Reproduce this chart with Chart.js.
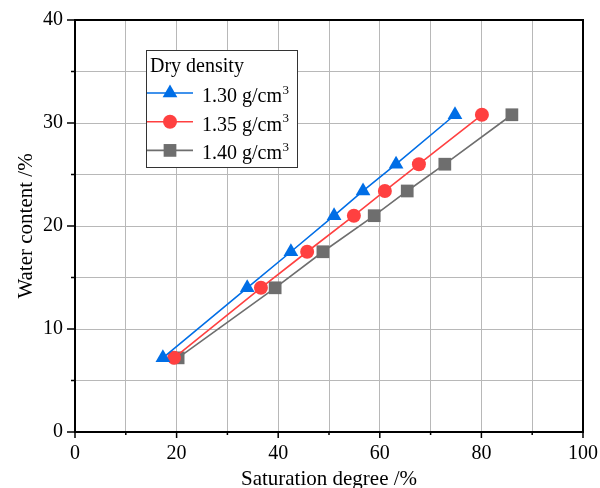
<!DOCTYPE html>
<html><head><meta charset="utf-8">
<script src="https://cdn.jsdelivr.net/npm/chart.js@4/dist/chart.umd.min.js"></script>
<style>html,body{margin:0;padding:0;background:#fff;overflow:hidden}canvas{display:block}</style>
</head><body>
<canvas id="c" width="600" height="488"></canvas>
<script>
// ---- data ----
const waterContent = [7.2, 14.0, 17.5, 21.0, 23.4, 26.0, 30.8];
const saturation130 = [17.3, 33.9, 42.5, 51.0, 56.7, 63.2, 74.8];
const saturation135 = [19.5, 36.6, 45.7, 54.9, 61.0, 67.7, 80.1];
const saturation140 = [20.3, 39.4, 48.8, 58.9, 65.4, 72.8, 86.0];
const seriesLabels = ['1.30 g/cm³', '1.35 g/cm³', '1.40 g/cm³'];
const legendTitle = 'Dry density';
const xTitle = 'Saturation degree /%';
const yTitle = 'Water content /%';

const FONT = "'Liberation Serif', 'Times New Roman', serif";
const colors = ['#006EE6', '#FF4040', '#6E6E6E'];
const shapes = ['triangle', 'circle', 'rect'];
const radii = [8.5, 7, 9];

const toPts = (xs) => xs.map((v, i) => ({x: v, y: waterContent[i]}));
const seriesX = [saturation130, saturation135, saturation140];

const datasets = seriesX.map((xs, i) => ({
  label: seriesLabels[i],
  data: toPts(xs),
  showLine: true,
  borderColor: colors[i],
  backgroundColor: colors[i],
  borderWidth: 1.6,
  pointStyle: shapes[i],
  pointRadius: radii[i],
  pointHoverRadius: radii[i],
  pointBorderWidth: 0,
  pointBackgroundColor: colors[i],
  tension: 0,
  clip: false
}));

function drawMarker(ctx, style, x, y, r, color) {
  ctx.fillStyle = color;
  ctx.beginPath();
  if (style === 'triangle') {
    ctx.moveTo(x, y - r);
    ctx.lineTo(x + r * Math.sin(Math.PI * 2 / 3), y - r * Math.cos(Math.PI * 2 / 3));
    ctx.lineTo(x - r * Math.sin(Math.PI * 2 / 3), y - r * Math.cos(Math.PI * 2 / 3));
    ctx.closePath();
  } else if (style === 'circle') {
    ctx.arc(x, y, r, 0, Math.PI * 2);
  } else {
    const h = r / Math.SQRT2;
    ctx.rect(x - h, y - h, 2 * h, 2 * h);
  }
  ctx.fill();
}

const framePlugin = {
  id: 'frame',
  afterDraw(chart) {
    const {ctx, chartArea: a, scales: {x, y}} = chart;
    ctx.save();
    // frame
    ctx.strokeStyle = '#000';
    ctx.lineWidth = 2;
    ctx.strokeRect(a.left, a.top, a.right - a.left, a.bottom - a.top);
    // ticks
    ctx.lineWidth = 1.5;
    ctx.beginPath();
    for (let v = 0; v <= 100; v += 10) {
      const px = x.getPixelForValue(v);
      const len = v % 20 === 0 ? 6 : 3;
      ctx.moveTo(px, a.bottom); ctx.lineTo(px, a.bottom + len);
    }
    for (let v = 0; v <= 40; v += 5) {
      const py = y.getPixelForValue(v);
      const len = v % 10 === 0 ? 8 : 4;
      ctx.moveTo(a.left, py); ctx.lineTo(a.left - len, py);
    }
    ctx.stroke();

    // legend
    const bx = 146, by = 50, bw = 151, bh = 117;
    ctx.fillStyle = '#fff';
    ctx.fillRect(bx, by, bw, bh);
    ctx.strokeStyle = '#333';
    ctx.lineWidth = 1;
    ctx.strokeRect(bx + 0.5, by + 0.5, bw, bh);
    ctx.fillStyle = '#000';
    ctx.textBaseline = 'alphabetic';
    ctx.textAlign = 'left';
    ctx.font = '20px ' + FONT;
    ctx.fillText(legendTitle, 150, 72);
    chart.data.datasets.forEach((ds, i) => {
      const ly = 93 + i * 28.7;
      ctx.strokeStyle = ds.borderColor;
      ctx.lineWidth = 1.6;
      ctx.beginPath();
      ctx.moveTo(147, ly); ctx.lineTo(193, ly);
      ctx.stroke();
      drawMarker(ctx, ds.pointStyle, 170, ly, ds.pointRadius, ds.borderColor);
      const lbl = ds.label;
      const main = lbl.endsWith('³') ? lbl.slice(0, -1) : lbl;
      ctx.fillStyle = '#000';
      ctx.font = '20px ' + FONT;
      ctx.fillText(main, 202, ly + 9);
      if (lbl.endsWith('³')) {
        const w = ctx.measureText(main).width;
        ctx.font = '13px ' + FONT;
        ctx.fillText('3', 202 + w + 0.5, ly + 0.5);
      }
    });
    ctx.restore();
  }
};

new Chart(document.getElementById('c'), {
  type: 'scatter',
  data: {datasets},
  options: {
    responsive: false,
    animation: false,
    events: [],
    layout: {padding: {top: 20, right: 17, left: 0, bottom: 0}},
    plugins: {legend: {display: false}, tooltip: {enabled: false}},
    scales: {
      x: {
        type: 'linear', min: 0, max: 100,
        afterFit(s) { s.height = 56; s.paddingLeft = 0; s.paddingRight = 0; },
        grid: {color: '#b8b8b8', lineWidth: 1, drawTicks: false},
        border: {display: false},
        ticks: {
          stepSize: 10, autoSkip: false, maxRotation: 0, padding: 10,
          color: '#000', font: {family: FONT, size: 20},
          callback: v => (v % 20 === 0 ? v : '')
        },
        title: {display: true, text: xTitle, color: '#000',
          font: {family: FONT, size: 21, lineHeight: 1}, padding: {top: 0, bottom: -2}}
      },
      y: {
        type: 'linear', min: 0, max: 40,
        afterFit(s) { s.width = 75; s.paddingTop = 0; s.paddingBottom = 0; },
        grid: {color: '#b8b8b8', lineWidth: 1, drawTicks: false},
        border: {display: false},
        ticks: {
          stepSize: 5, autoSkip: false, padding: 12,
          color: '#000', font: {family: FONT, size: 20},
          callback: v => (v % 10 === 0 ? v : '')
        },
        title: {display: true, text: yTitle, color: '#000',
          font: {family: FONT, size: 21, lineHeight: 1}, padding: {top: 16, bottom: 0}}
      }
    }
  },
  plugins: [framePlugin]
});
</script>
</body></html>
